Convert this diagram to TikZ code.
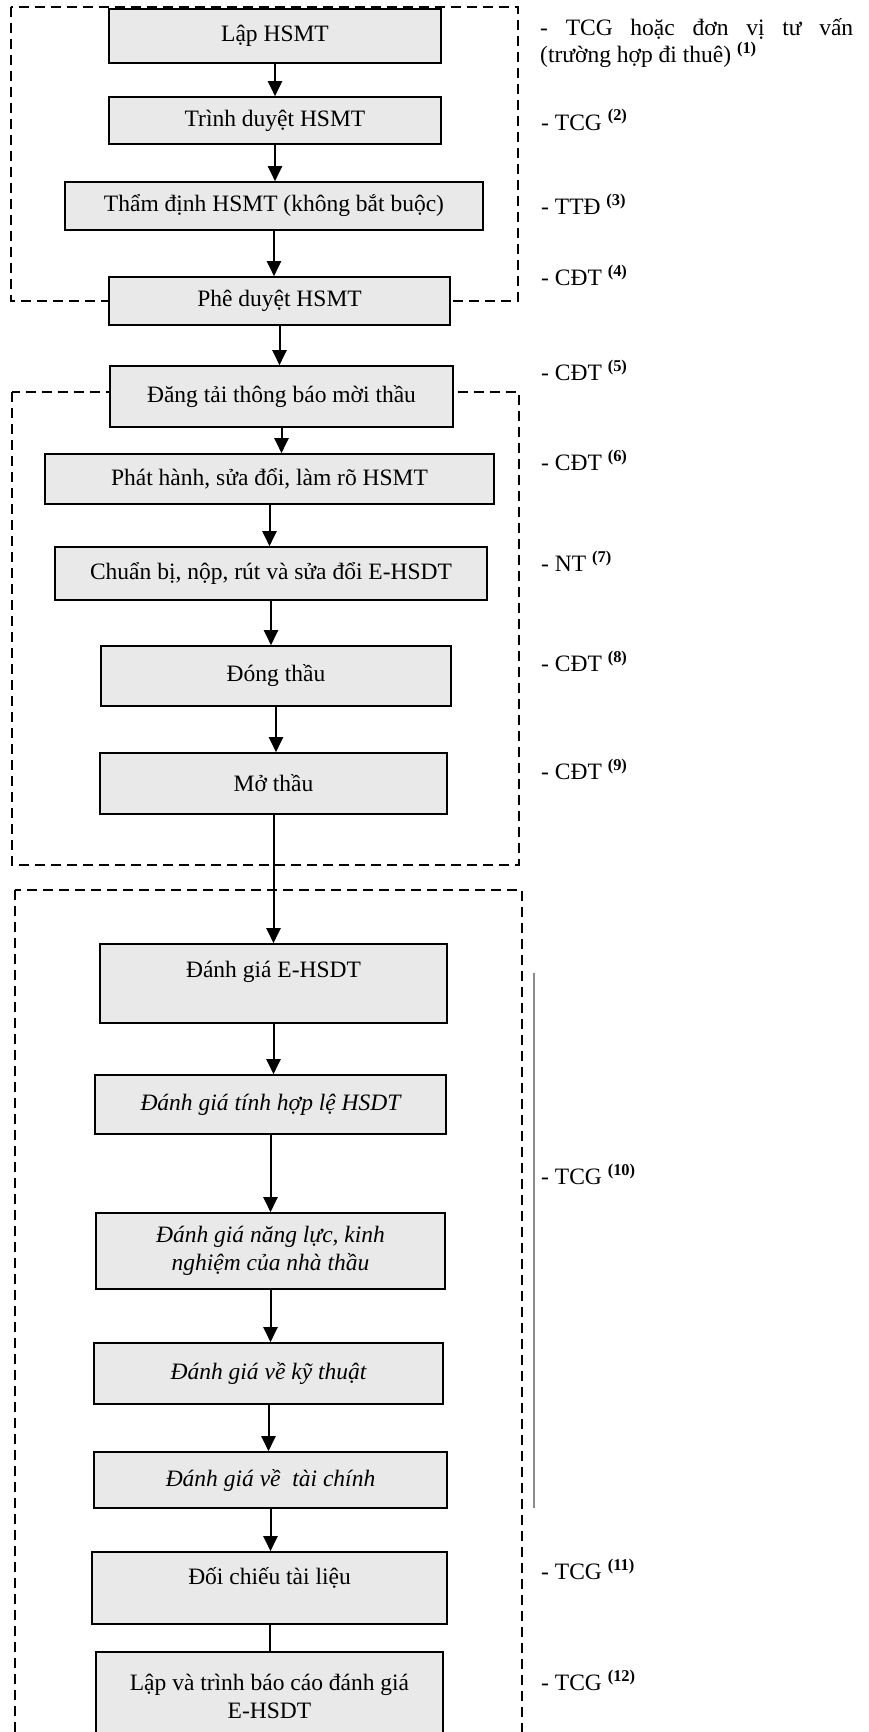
\documentclass[tikz,border=0pt]{standalone}
\usepackage{fontspec}
\setmainfont{Liberation Serif}
\usepackage{xcolor}
\definecolor{xam}{RGB}{233,233,233}
\definecolor{xamDam}{RGB}{140,140,140}
\usepackage{tikz}
\usetikzlibrary{arrows.meta,calc,positioning}
\tikzstyle{block}    =[rectangle, draw, fill=xam, line width=1.6pt,
                      inner sep=0pt, align=center]
\tikzstyle{edge}     =[-{Triangle[length=15pt,width=14pt]},
                      line width=2pt]
\tikzstyle{plain}    =[line width=2pt]
\tikzstyle{dashframe}=[dash pattern=on 10pt off 6pt, line width=1.3pt]
\tikzstyle{note}     =[anchor=base west, inner sep=0pt]

\begin{document}
\begin{tikzpicture}[x=1pt,y=-1pt,font=\fontsize{23.5}{28}\selectfont]
    \useasboundingbox (0,0) rectangle (869,1732);

    % dashed groups
    \draw [dashframe] (11,7) rectangle (518,301);
    \draw [dashframe] (12,392) rectangle (519,865);
    \draw [dashframe] (15,890) rectangle (522,1770);

    \draw (275,36) node (1) [block,minimum width=332pt,minimum height=54pt] {Lập HSMT};
    \draw (275,120.5) node (2) [block,minimum width=332pt,minimum height=47pt] {Trình duyệt HSMT};
    \draw (274,206) node (3) [block,minimum width=418pt,minimum height=48pt] {Thẩm định HSMT (không bắt buộc)};
    \draw (279.5,301) node (4) [block,minimum width=341pt,minimum height=48pt] {Phê duyệt HSMT};
    \draw (281.5,396.5) node (5) [block,minimum width=343pt,minimum height=61pt] {Đăng tải thông báo mời thầu};
    \draw (269.5,479) node (6) [block,minimum width=449pt,minimum height=50pt] {Phát hành, sửa đổi, làm rõ HSMT};
    \draw (271,573.5) node (7) [block,minimum width=432pt,minimum height=53pt] {Chuẩn bị, nộp, rút và sửa đổi E-HSDT};
    \draw (276,676) node (8) [block,minimum width=350pt,minimum height=60pt] {Đóng thầu};
    \draw (273.5,783.5) node (9) [block,minimum width=347pt,minimum height=61pt] {Mở thầu};
    \draw (273.5,983.5) node (10) [block,minimum width=347pt,text height=33.8pt,text depth=45.2pt] {Đánh giá E-HSDT};
    \draw (270.5,1104.5) node (11) [block,minimum width=351pt,minimum height=59pt] {\itshape Đánh giá tính hợp lệ HSDT};
    \draw (270.5,1251) node (12) [block,minimum width=349pt,minimum height=76pt] {\itshape Đánh giá năng lực, kinh\\\itshape nghiệm của nhà thầu};
    \draw (268.5,1373.5) node (13) [block,minimum width=349pt,minimum height=61pt] {\itshape Đánh giá về kỹ thuật};
    \draw (270.5,1480) node (14) [block,minimum width=353pt,minimum height=56pt] {\itshape Đánh giá về\ \ tài chính};
    \draw (269.5,1588) node (15) [block,minimum width=355pt,text height=32.8pt,text depth=39.2pt] {Đối chiếu tài liệu};
    \draw (269.5,1696) node (16) [block,minimum width=347pt,minimum height=88pt] {Lập và trình báo cáo đánh giá\\E-HSDT};

    \foreach \i/\j in{1/2,2/3,3/4,4/5,5/6,6/7,7/8,8/9,9/10,
    10/11,11/12,12/13,13/14,14/15}
        \draw [edge] (\i.south) -- (\i.south |- \j.north);
    \draw [plain] (15.south) -- (15.south |- 16.north);

    % who does what
    \draw (540,18) node (n1) [note,anchor=north west,text width=313pt,align=justify,
        font=\fontsize{23.5}{27}\selectfont]
        {- TCG hoặc đơn vị tư vấn\linebreak (trường hợp đi thuê) \textsuperscript{\textbf{(1)}}};
    \draw (541,130) node (n2) [note] {- TCG \textsuperscript{\textbf{(2)}}};
    \draw (541,214.5) node (n3) [note] {- TTĐ \textsuperscript{\textbf{(3)}}};
    \draw (541,285.5) node (n4) [note] {- CĐT \textsuperscript{\textbf{(4)}}};
    \draw (541,380.5) node (n5) [note] {- CĐT \textsuperscript{\textbf{(5)}}};
    \draw (541,470.5) node (n6) [note] {- CĐT \textsuperscript{\textbf{(6)}}};
    \draw (541,571.5) node (n7) [note] {- NT \textsuperscript{\textbf{(7)}}};
    \draw (541,671.5) node (n8) [note] {- CĐT \textsuperscript{\textbf{(8)}}};
    \draw (541,779.5) node (n9) [note] {- CĐT \textsuperscript{\textbf{(9)}}};
    \draw (541,1184.5) node (n10) [note] {- TCG \textsuperscript{\textbf{(10)}}};
    \draw (541,1579.5) node (n11) [note] {- TCG \textsuperscript{\textbf{(11)}}};
    \draw (541,1690.5) node (n12) [note] {- TCG \textsuperscript{\textbf{(12)}}};

    \draw [xamDam,line width=1.5pt] (534,973) -- (534,1508);
\end{tikzpicture}
\end{document}
